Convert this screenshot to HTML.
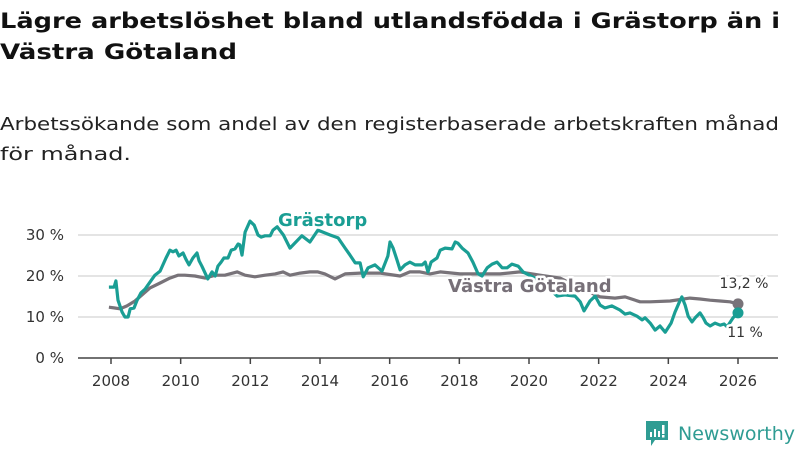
<!DOCTYPE html>
<html><head><meta charset="utf-8"><style>
html,body{margin:0;padding:0;background:#fff;}
svg{display:block;font-family:"DejaVu Sans","Liberation Sans",sans-serif;}
</style></head><body>
<svg id="chart" width="800" height="450" viewBox="0 0 800 450">
<text x="0" y="28" font-size="21" font-weight="bold" fill="#111" textLength="780" lengthAdjust="spacingAndGlyphs">Lägre arbetslöshet bland utlandsfödda i Grästorp än i</text>
<text x="0" y="59" font-size="21" font-weight="bold" fill="#111" textLength="237" lengthAdjust="spacingAndGlyphs">Västra Götaland</text>
<text x="0" y="130" font-size="18" fill="#222" textLength="779" lengthAdjust="spacingAndGlyphs">Arbetssökande som andel av den registerbaserade arbetskraften månad</text>
<text x="0" y="160" font-size="18" fill="#222" textLength="131" lengthAdjust="spacingAndGlyphs">för månad.</text>
<g id="grid"></g><g id="axis"></g><g id="series"></g><g id="labels"></g>
<g>
<path d="M646 421h22v19h-13l-4 6v-6h-5z" fill="#2f9c93"/>
<rect x="650" y="432" width="2" height="5" fill="#fff"/><rect x="654" y="429" width="2" height="8" fill="#fff"/><rect x="658" y="431" width="2" height="6" fill="#fff"/><rect x="662" y="425" width="2.5" height="9" fill="#fff"/><rect x="662" y="435" width="2.5" height="2.5" fill="#fff"/>
<text x="678" y="440" font-size="19" fill="#2f9c93" textLength="117" lengthAdjust="spacingAndGlyphs">Newsworthy</text>
</g>
</svg>
<script>
const gYears=[2007.94,2008.09,2008.14,2008.20,2008.32,2008.40,2008.49,2008.55,2008.66,2008.75,2008.86,2008.98,2009.12,2009.26,2009.41,2009.49,2009.58,2009.69,2009.78,2009.87,2009.95,2010.07,2010.15,2010.24,2010.35,2010.47,2010.53,2010.61,2010.73,2010.78,2010.90,2010.99,2011.07,2011.16,2011.24,2011.36,2011.45,2011.56,2011.65,2011.70,2011.76,2011.85,2011.99,2012.11,2012.22,2012.31,2012.42,2012.57,2012.65,2012.77,2012.95,2013.14,2013.48,2013.71,2013.94,2014.29,2014.52,2014.72,2014.86,2015.01,2015.15,2015.24,2015.38,2015.58,2015.78,2015.95,2016.01,2016.10,2016.21,2016.30,2016.44,2016.58,2016.73,2016.93,2017.02,2017.10,2017.19,2017.36,2017.45,2017.59,2017.79,2017.88,2017.96,2018.08,2018.25,2018.39,2018.54,2018.65,2018.80,2018.94,2019.08,2019.23,2019.37,2019.51,2019.69,2019.83,2020.17,2020.46,2020.81,2021.03,2021.32,2021.47,2021.58,2021.75,2021.90,2022.04,2022.18,2022.38,2022.61,2022.76,2022.90,2023.10,2023.25,2023.33,2023.48,2023.62,2023.76,2023.91,2024.08,2024.19,2024.34,2024.39,2024.48,2024.57,2024.68,2024.77,2024.91,2025.00,2025.08,2025.20,2025.34,2025.49,2025.60,2025.69,2025.86,2026.00];
const gValues=[17.3,17.3,18.8,14.1,11.2,10.0,10.0,12.0,12.2,14.1,15.9,16.8,18.5,20.2,21.2,22.7,24.4,26.3,25.9,26.3,24.9,25.6,24.1,22.7,24.4,25.6,23.7,22.4,20.2,19.3,21.0,20.0,22.4,23.4,24.4,24.4,26.3,26.6,27.8,27.6,25.1,30.7,33.4,32.4,30.0,29.5,29.8,29.8,31.2,32.0,30.0,26.8,29.8,28.3,31.2,30.0,29.3,26.8,25.1,23.2,23.2,19.8,22.0,22.7,21.2,24.9,28.3,26.8,23.9,21.5,22.7,23.4,22.7,22.7,23.4,21.0,23.4,24.4,26.3,26.8,26.6,28.3,28.0,26.8,25.6,23.4,20.5,20.0,22.0,22.9,23.4,22.0,22.0,22.9,22.4,21.0,19.5,17.8,15.1,15.4,15.1,13.7,11.5,13.9,15.1,12.9,12.2,12.7,11.7,10.7,11.0,10.2,9.3,9.8,8.5,6.8,7.8,6.3,8.5,11.2,14.1,14.9,12.9,10.2,8.8,9.8,11.0,9.8,8.5,7.8,8.5,8.0,8.3,7.6,9.8,11.0];
const vYears=[2007.94,2008.11,2008.26,2008.46,2008.69,2008.92,2009.12,2009.41,2009.69,2009.92,2010.12,2010.41,2010.70,2010.99,2011.27,2011.62,2011.85,2012.13,2012.42,2012.71,2012.94,2013.14,2013.43,2013.71,2013.94,2014.14,2014.43,2014.72,2015.15,2015.72,2016.30,2016.58,2016.87,2017.16,2017.45,2018.02,2018.59,2019.17,2019.74,2020.32,2020.89,2021.47,2022.04,2022.47,2022.76,2023.19,2023.48,2024.05,2024.62,2024.91,2025.20,2025.49,2025.77,2026.00];
const vValues=[12.4,12.2,12.0,12.7,13.9,15.6,17.1,18.3,19.5,20.2,20.2,20.0,19.5,20.2,20.2,21.0,20.2,19.8,20.2,20.5,21.0,20.2,20.7,21.0,21.0,20.5,19.3,20.5,20.7,20.7,20.0,21.0,21.0,20.5,21.0,20.5,20.5,20.5,21.0,20.2,19.5,17.1,14.9,14.6,14.9,13.7,13.7,13.9,14.6,14.4,14.1,13.9,13.7,13.2];
const yTicks=[0,10,20,30];
const yTickLabels=["0 %","10 %","20 %","30 %"];
const xTicks=[2008,2010,2012,2014,2016,2018,2020,2022,2024,2026];
const endLabels=["13,2 %","11 %"];

const NS="http://www.w3.org/2000/svg";
const xS=y=>111+(y-2008)*(738-111)/18;
const yS=v=>358-v*4.1;
function mk(tag,attrs,parent){const e=document.createElementNS(NS,tag);for(const k in attrs)e.setAttribute(k,attrs[k]);parent.appendChild(e);return e;}
const grid=document.getElementById('grid'),axis=document.getElementById('axis'),series=document.getElementById('series'),labels=document.getElementById('labels');
yTicks.forEach((t,i)=>{
  if(t>0){const l=mk('line',{x1:78,x2:778,y1:yS(t),y2:yS(t),stroke:'#dcdcdc','stroke-width':1.5},grid);
  
  }
  const tx=mk('text',{x:64,y:yS(t)+5,'font-size':15,fill:'#333','text-anchor':'end'},axis);
  tx.textContent=yTickLabels[i];
  
  
});
const base=mk('line',{x1:78,x2:778,y1:358,y2:358,stroke:'#444','stroke-width':1.5},axis);


xTicks.forEach(t=>{
  const l=mk('line',{x1:xS(t),x2:xS(t),y1:358,y2:364,stroke:'#444','stroke-width':1.5},axis);
  
  
  const tx=mk('text',{x:xS(t),y:386,'font-size':15,fill:'#333','text-anchor':'middle'},axis);
  tx.textContent=t;
  
  
});
function path(xs,vs){return xs.map((x,i)=>(i?'L':'M')+xS(x).toFixed(1)+' '+yS(vs[i]).toFixed(1)).join(' ');}
const vp=mk('path',{d:path(vYears,vValues),fill:'none',stroke:'#787379','stroke-width':3.2,'stroke-linejoin':'round'},series);


const gp=mk('path',{d:path(gYears,gValues),fill:'none',stroke:'#1a9e94','stroke-width':3.2,'stroke-linejoin':'round'},series);


const vd=mk('circle',{cx:xS(vYears[vYears.length-1]),cy:yS(vValues[vValues.length-1]),r:5.5,fill:'#787379'},series);


const gd=mk('circle',{cx:xS(gYears[gYears.length-1]),cy:yS(gValues[gValues.length-1]),r:5.5,fill:'#1a9e94'},series);


function halo(x,y,txt,size,fill,bold,name,anchor){
  const a={x:x,y:y,'font-size':size,'text-anchor':anchor||'start',stroke:'#fff','stroke-width':5,'stroke-linejoin':'round','paint-order':'stroke',fill:fill};
  if(bold)a['font-weight']='bold';
  const t=mk('text',a,labels);t.textContent=txt;
  
  
}
halo(278,226,'Grästorp',18,'#1a9e94',true,'grastorp-label');
halo(448,292,'Västra Götaland',18,'#777078',true,'vastra-gotaland-label');
halo(744,288,endLabels[0],14,'#333',false,'vastra-gotaland-end-label','middle');
halo(745,337,endLabels[1],14,'#333',false,'grastorp-end-label','middle');
</script>
</body></html>
